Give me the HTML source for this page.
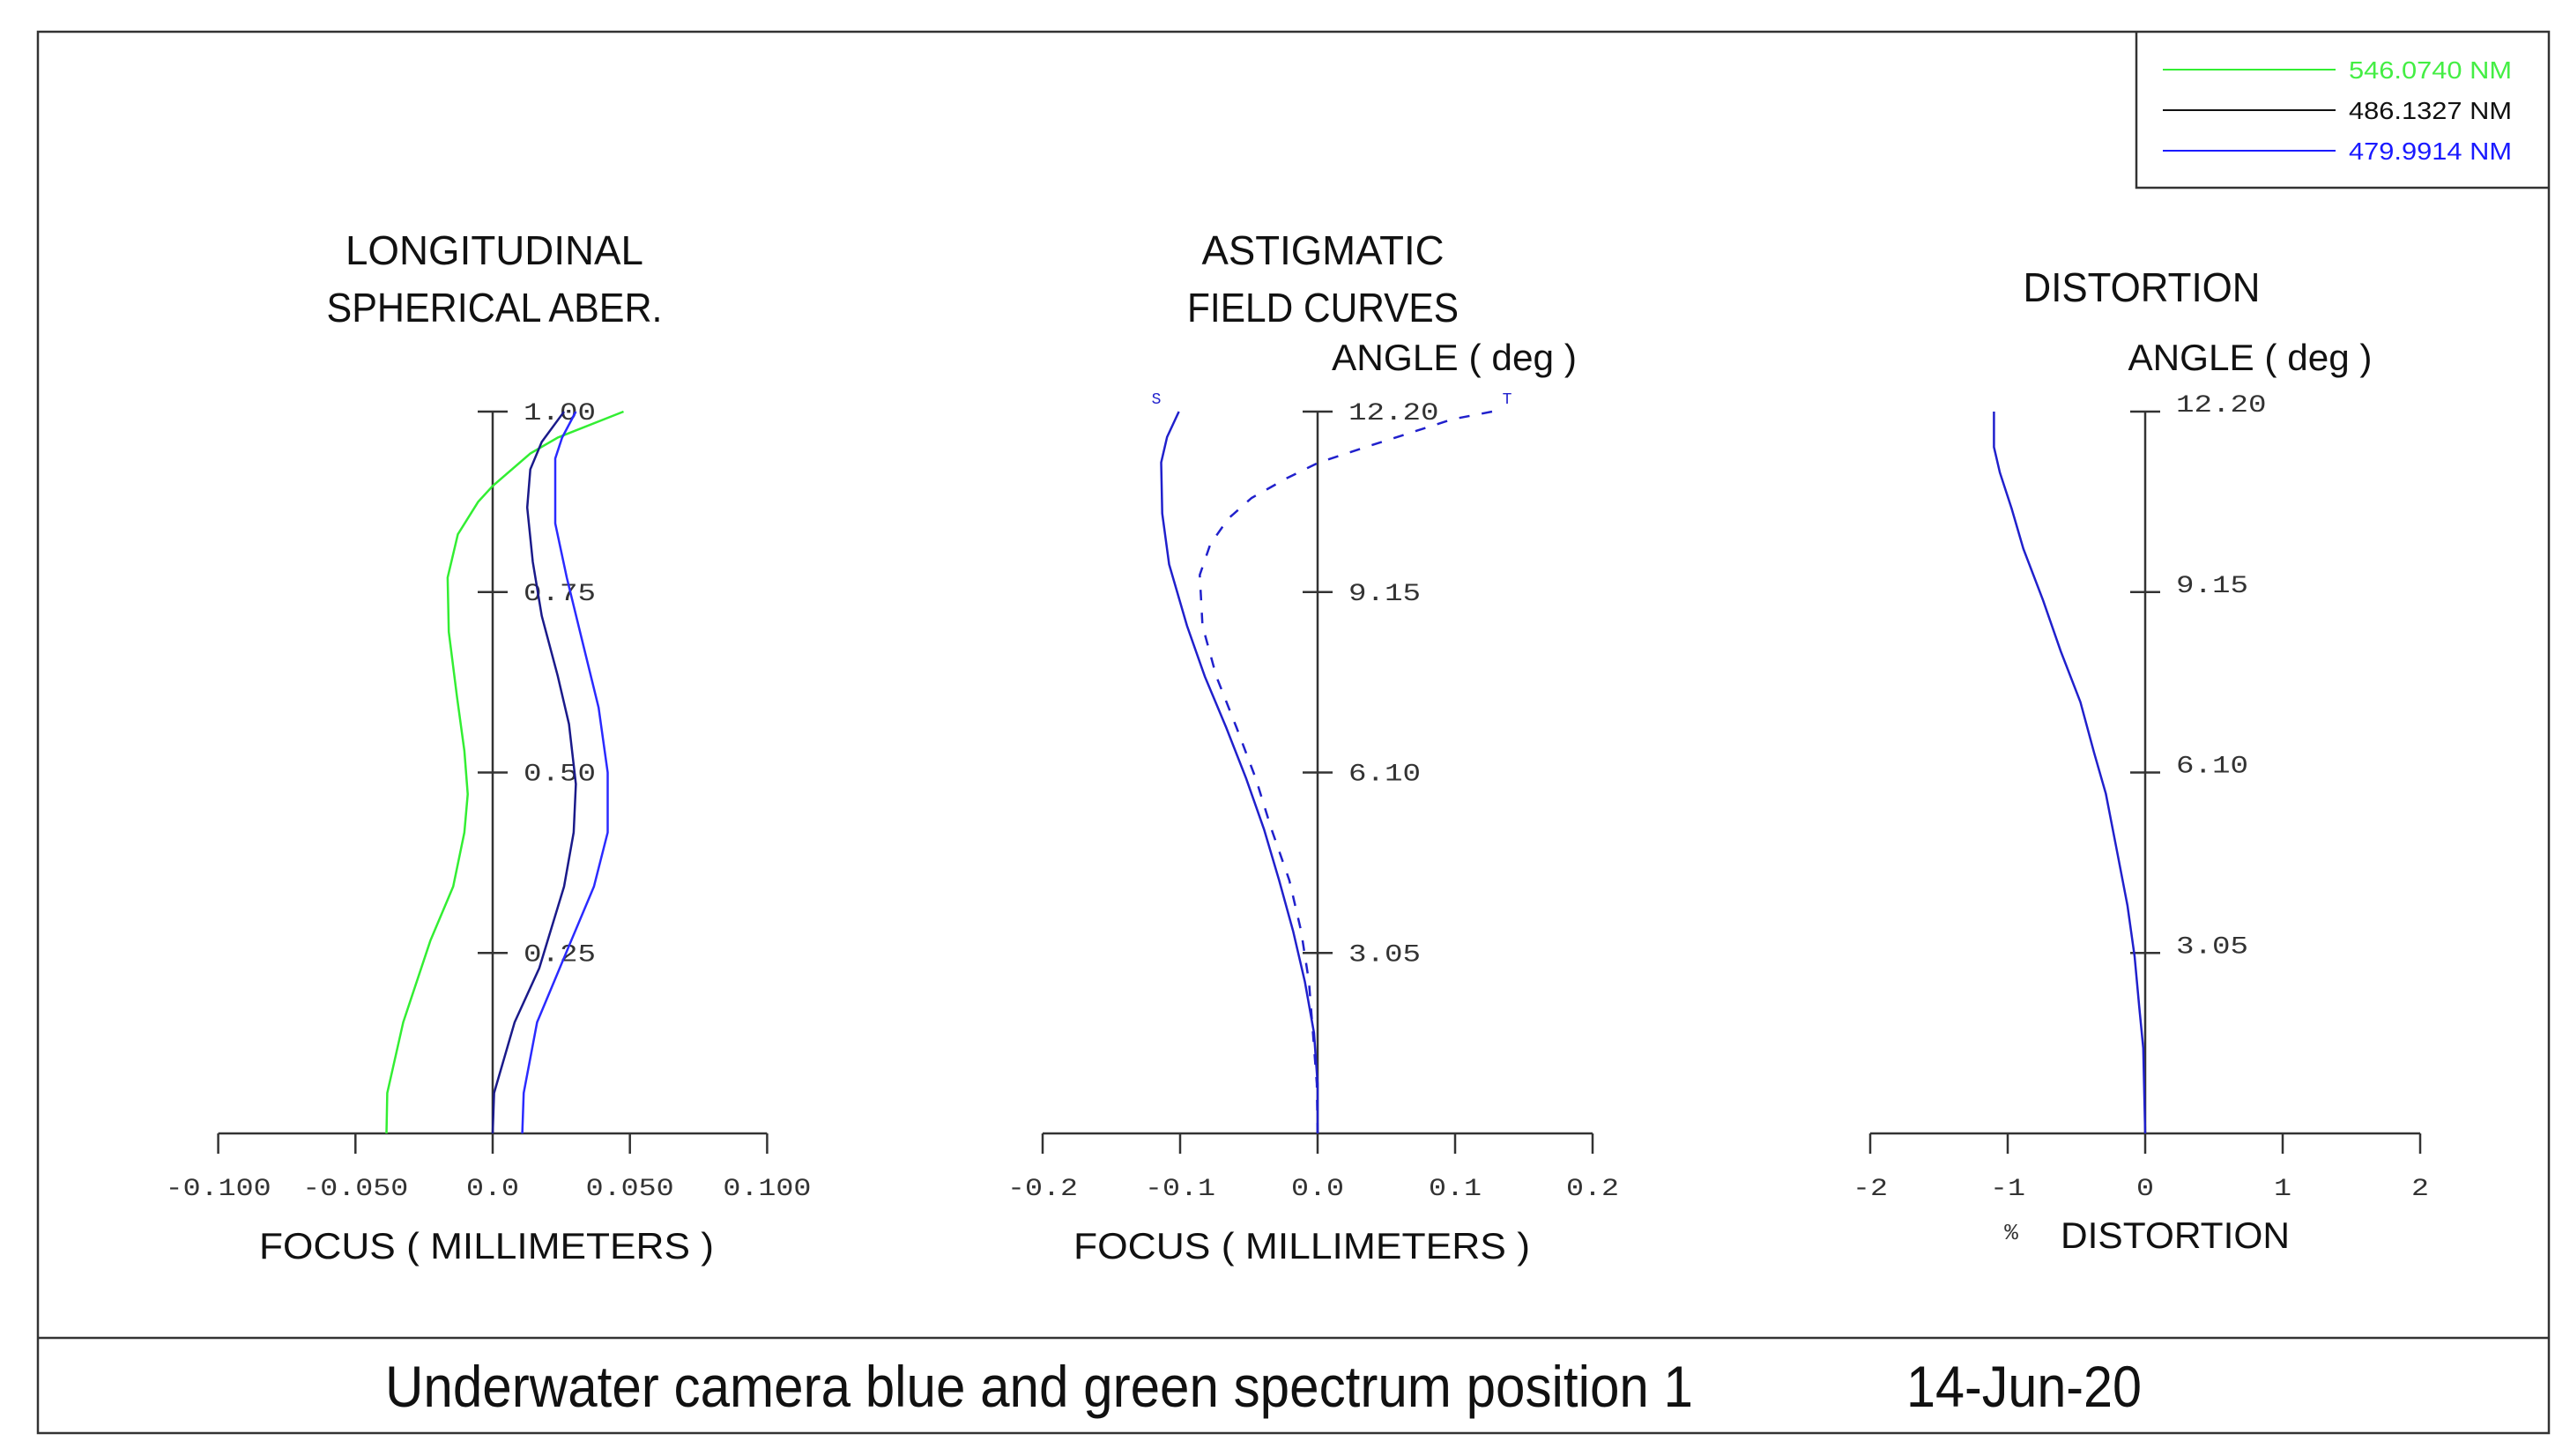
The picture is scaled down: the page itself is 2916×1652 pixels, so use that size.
<!DOCTYPE html>
<html><head><meta charset="utf-8"><style>
html,body{margin:0;padding:0;background:#fff;}
svg{display:block;}
.t{font-family:"Liberation Sans",sans-serif;fill:#111;}
.m{font-family:"Liberation Mono",monospace;fill:#333;}
</style></head><body>
<svg id="svg" xmlns="http://www.w3.org/2000/svg" width="2916" height="1652" viewBox="0 0 2916 1652">
<rect x="43" y="36" width="2849" height="1590" fill="#fff" stroke="#333" stroke-width="2.5"/>
<line x1="43" y1="1518" x2="2892" y2="1518" stroke="#333" stroke-width="2.5"/>
<g>
<polyline points="2424,36 2424,213 2892,213" fill="none" stroke="#333" stroke-width="2.5"/>
<line x1="2454" y1="79" x2="2650" y2="79" stroke="#33ee33" stroke-width="2"/>
<text class="t" x="2665" y="89" font-size="28" fill="#44ee44" style="fill:#44ee44" textLength="185" lengthAdjust="spacingAndGlyphs">546.0740  NM</text>
<line x1="2454" y1="125" x2="2650" y2="125" stroke="#111" stroke-width="2"/>
<text class="t" x="2665" y="135" font-size="28" textLength="185" lengthAdjust="spacingAndGlyphs">486.1327  NM</text>
<line x1="2454" y1="171" x2="2650" y2="171" stroke="#1a1aff" stroke-width="2"/>
<text class="t" x="2665" y="181" font-size="28" style="fill:#1a1aff" textLength="185" lengthAdjust="spacingAndGlyphs">479.9914  NM</text>
</g>
<text class="t" x="437" y="1596" font-size="66" textLength="1484" lengthAdjust="spacingAndGlyphs">Underwater camera blue and green spectrum position 1</text>
<text class="t" x="2163" y="1596" font-size="66" textLength="267" lengthAdjust="spacingAndGlyphs">14-Jun-20</text>
<g id="plots"></g>
</svg>
<script>
// Longitudinal spherical aberration: fractional pupil vs focus (mm)
const lsaPupil546 = [0,0.056,0.154,0.267,0.342,0.417,0.470,0.530,0.605,0.695,0.770,0.830,0.875,0.897,0.942,0.964,1.0];
const lsaFocus546 = [-0.0387,-0.0384,-0.0326,-0.0227,-0.0144,-0.0103,-0.0091,-0.0103,-0.013,-0.016,-0.0164,-0.0127,-0.0053,0,0.0137,0.0237,0.0477];
const lsaPupil486 = [0,0.056,0.154,0.229,0.342,0.417,0.484,0.567,0.634,0.717,0.792,0.867,0.92,0.958,1.0];
const lsaFocus486 = [0,0.0005,0.008,0.017,0.026,0.0295,0.0303,0.0278,0.0237,0.0179,0.0146,0.0126,0.0137,0.0179,0.026];
const lsaPupil479 = [0,0.056,0.154,0.267,0.342,0.417,0.5,0.59,0.68,0.77,0.845,0.935,0.964,1.0];
const lsaFocus479 = [0.0108,0.0113,0.0162,0.0286,0.0369,0.0419,0.0419,0.0386,0.0328,0.027,0.0228,0.0228,0.0253,0.0303];
const lsaXTicks = [-0.1,-0.05,0,0.05,0.1];
const lsaXTickLabels = ["-0.100","-0.050","0.0","0.050","0.100"];
const lsaYTicks = [0.25,0.5,0.75,1.0];
const lsaYTickLabels = ["0.25","0.50","0.75","1.00"];
// Astigmatic field curves: angle (deg) vs focus (mm)
const sAngle = [0,0.84,1.70,2.56,3.42,4.28,5.14,6.0,6.86,7.72,8.58,9.62,10.48,11.34,11.77,12.2];
const sFocus = [0,0,-0.0026,-0.0092,-0.0178,-0.028,-0.039,-0.052,-0.0665,-0.082,-0.095,-0.108,-0.113,-0.1138,-0.1095,-0.1009];
const tAngle = [0,0.84,1.70,2.56,3.42,4.28,5.14,6.0,6.86,7.72,8.58,9.44,9.96,10.39,10.74,11.08,11.34,11.6,11.86,12.07,12.2];
const tFocus = [0,-0.0006,-0.0034,-0.0063,-0.012,-0.0206,-0.0335,-0.045,-0.059,-0.0736,-0.0837,-0.0857,-0.078,-0.065,-0.048,-0.022,0.001,0.035,0.07,0.098,0.127];
const astXTicks = [-0.2,-0.1,0,0.1,0.2];
const astXTickLabels = ["-0.2","-0.1","0.0","0.1","0.2"];
const angTicks = [3.05,6.10,9.15,12.20];
const angTickLabels = ["3.05","6.10","9.15","12.20"];
// Distortion: angle vs percent
const distAngle = [0,1.44,2.13,2.99,3.85,4.71,5.74,6.43,7.29,8.15,9.01,9.88,10.56,11.17,11.6,12.2];
const distPct = [0,-0.014,-0.043,-0.077,-0.129,-0.2,-0.286,-0.371,-0.471,-0.614,-0.743,-0.886,-0.971,-1.057,-1.1,-1.1];
const distXTicks = [-2,-1,0,1,2];
const distXTickLabels = ["-2","-1","0","1","2"];

const NS="http://www.w3.org/2000/svg";
const root=document.getElementById('plots');
function mk(tag,attrs,parent){const e=document.createElementNS(NS,tag);for(const k in attrs)e.setAttribute(k,attrs[k]);(parent||root).appendChild(e);return e;}
function txt(s,attrs,parent){const e=mk('text',attrs,parent);e.textContent=s;return e;}
const Y0=1286, Y1=467;

function panel(name,x0,pxPerUnit,ymax,xTicks,xLabels,yTicks,yLabels,yLabelDy){
  const g=mk('g',{});
  
  
  const X=v=>x0+v*pxPerUnit, Y=v=>Y0-(v/ymax)*(Y0-Y1);
  const xa=mk('line',{x1:X(xTicks[0]),y1:Y0,x2:X(xTicks[xTicks.length-1]),y2:Y0,stroke:'#333','stroke-width':2.5},g);
  
  
  const ya=mk('line',{x1:x0,y1:Y0,x2:x0,y2:Y1,stroke:'#333','stroke-width':2.5},g);
  
  
  xTicks.forEach((v,i)=>{
    const t=mk('line',{x1:X(v),y1:Y0,x2:X(v),y2:Y0+23,stroke:'#333','stroke-width':2.5},g);
    
    
    const s=xLabels[i];
    const l=txt(s,{class:'m',x:X(v),y:Y0+70,'font-size':28,'text-anchor':'middle',textLength:s.length*20,lengthAdjust:'spacingAndGlyphs'},g);
    
    
  });
  yTicks.forEach((v,i)=>{
    const t=mk('line',{x1:x0-17,y1:Y(v),x2:x0+17,y2:Y(v),stroke:'#333','stroke-width':2.5},g);
    
    
    const s=yLabels[i];
    const l=txt(s,{class:'m',x:x0+35,y:Y(v)+9+yLabelDy,'font-size':28,textLength:s.length*20.5,lengthAdjust:'spacingAndGlyphs'},g);
    
    
  });
  return {g,X,Y};
}
function curve(p,xs,ys,color,name,dash){
  const pts=xs.map((x,i)=>p.X(x).toFixed(1)+','+p.Y(ys[i]).toFixed(1)).join(' ');
  const a={points:pts,fill:'none',stroke:color,'stroke-width':2.5};
  if(dash)a['stroke-dasharray']=dash;
  const e=mk('polyline',a,p.g);
  
  
}
// Panel 1
const p1=panel('longitudinal-spherical-panel',559,155.7/0.05,1.0,lsaXTicks,lsaXTickLabels,lsaYTicks,lsaYTickLabels,0);
curve(p1,lsaFocus546,lsaPupil546,'#33ee33','curve-546nm');
curve(p1,lsaFocus486,lsaPupil486,'#1a1a8a','curve-486nm');
curve(p1,lsaFocus479,lsaPupil479,'#2a2aff','curve-479nm');
// Panel 2
const p2=panel('astigmatic-field-panel',1495,1560,12.2,astXTicks,astXTickLabels,angTicks,angTickLabels,0);
curve(p2,sFocus,sAngle,'#2020cc','sagittal-curve');
curve(p2,tFocus,tAngle,'#2020cc','tangential-curve','12,14');
// Panel 3
const p3=panel('distortion-panel',2434,156,12.2,distXTicks,distXTickLabels,angTicks,angTickLabels,-9);
curve(p3,distPct,distAngle,'#2020cc','distortion-curve');

function label(s,x,y,size,w,name,anchor,cls,fill){
  const a={class:cls||'t',x:x,y:y,'font-size':size,'text-anchor':anchor||'middle'};
  if(w){a.textLength=w;a.lengthAdjust='spacingAndGlyphs';}
  if(fill)a.style='fill:'+fill;
  const e=txt(s,a);
  
  
}
label('LONGITUDINAL',561,300,46,338,'lsa-title-line1');
label('SPHERICAL ABER.',561,365,46,381,'lsa-title-line2');
label('ASTIGMATIC',1501,300,46,275,'astig-title-line1');
label('FIELD CURVES',1501,365,46,308,'astig-title-line2');
label('ANGLE ( deg )',1650,420,42,278,'astig-y-axis-title');
label('DISTORTION',2430,342,46,269,'distortion-title');
label('ANGLE ( deg )',2553,420,42,277,'distortion-y-axis-title');
label('FOCUS   ( MILLIMETERS )',552,1428,42,516,'lsa-x-axis-title');
label('FOCUS   ( MILLIMETERS )',1477,1428,42,518,'astig-x-axis-title');
label('%',2282,1406,26,null,'percent-sign','middle','m');
label('DISTORTION',2338,1416,42,260,'distortion-x-axis-title','start');
label('S',1312,458,18,null,'sagittal-marker','middle','m','#2020cc');
label('T',1710,458,18,null,'tangential-marker','middle','m','#2020cc');
</script>
</body></html>
